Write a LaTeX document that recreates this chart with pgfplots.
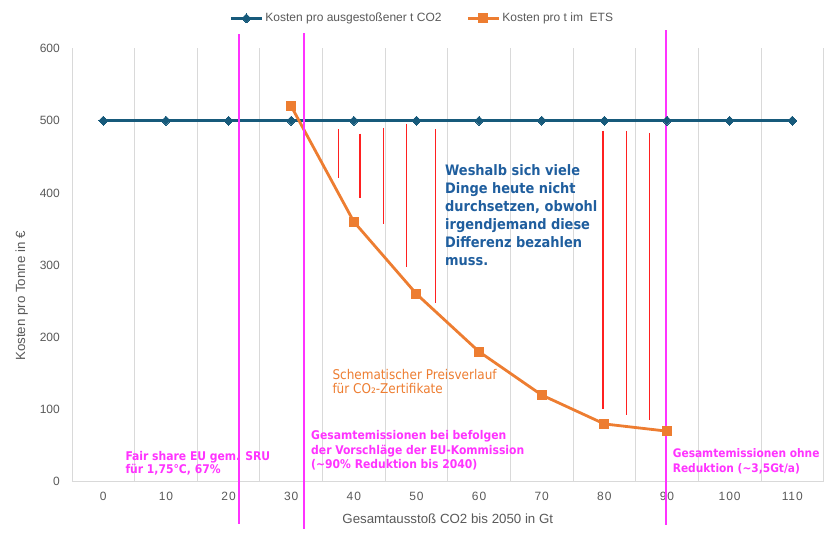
\documentclass[border=0pt]{standalone}
\usepackage{pgfplots}
\pgfplotsset{compat=1.18}
\usepackage{fontspec}
\setmainfont{Liberation Sans}
\newfontfamily\annot{DejaVu Sans Condensed}
\definecolor{blueline}{HTML}{175A7B}
\definecolor{orangeline}{HTML}{ED7D31}
\definecolor{magentaline}{HTML}{FF33FF}
\definecolor{redline}{HTML}{FF2020}
\definecolor{textblue}{HTML}{1F5E9E}
\definecolor{graytext}{HTML}{595959}
\definecolor{gridgray}{HTML}{D9D9D9}
\newcommand{\legfont}{\fontsize{12}{14}\selectfont}
\begin{document}
\begin{tikzpicture}
\useasboundingbox (-72pt,-62.3pt) rectangle (767pt,481.7pt);
\begin{axis}[
  at={(0pt,0pt)}, anchor=south west,
  scale only axis, width=751.6pt, height=433.2pt,
  xmin=-5, xmax=115, ymin=0, ymax=600,
  clip=false,
  axis x line*=bottom, axis y line*=left,
  axis line style={draw=gridgray, line width=0.8pt, -},
  xtick={0,10,...,110}, ytick={0,100,...,600},
  minor xtick={-5,5,...,115},
  xminorgrids, minor grid style={draw=gridgray, line width=0.8pt},
  major tick length=0pt, minor tick length=0pt,
  /pgf/number format/assume math mode=true,
  xticklabel style={font=\fontsize{12}{14}\selectfont\addfontfeature{LetterSpace=8}, text=graytext, anchor=north, inner sep=0pt, yshift=-10pt},
  yticklabel style={font=\fontsize{12}{14}\selectfont, text=graytext, anchor=east, inner sep=0pt, xshift=-12pt},
  xlabel={Gesamtausstoß CO2 bis 2050 in Gt},
  ylabel={Kosten pro Tonne in €},
  every axis x label/.style={at={(rel axis cs:0.5,-0.0845)}, anchor=center, font=\fontsize{13.3}{15}\selectfont, text=graytext},
  every axis y label/.style={at={(rel axis cs:-0.0669,0.4287)}, anchor=center, rotate=90, font=\fontsize{13.3}{15}\selectfont, text=graytext},
  legend columns=2,
  legend cell align=left,
  legend style={at={(0.466,1.0697)}, anchor=center, draw=none, fill=none,
    text=graytext,
    nodes={text=graytext, inner xsep=2pt, inner ysep=1pt},
    /tikz/every odd column/.style={column sep=0pt},
    /tikz/every even column/.style={column sep=23pt}},
  legend image code/.code={\draw[mark repeat=2,mark phase=2,#1] plot coordinates {(0pt,0pt)(15.5pt,0pt)(31pt,0pt)};},
]
\addplot[color=blueline, line width=3pt, mark=square*, mark size=3.2pt, mark options={rotate=45, solid, line width=0pt, fill=blueline, draw=blueline}]
 coordinates {(0,500)(10,500)(20,500)(30,500)(40,500)(50,500)(60,500)(70,500)(80,500)(90,500)(100,500)(110,500)};
\addlegendentry{\legfont Kosten pro ausgestoßener t CO2}
\addplot[color=orangeline, line width=2.8pt, mark=square*, mark size=4.5pt, mark options={solid, line width=0pt, fill=orangeline, draw=orangeline}]
 coordinates {(30,520)(40,360)(50,260)(60,180)(70,120)(80,80)(90,70)};
\addlegendentry{\legfont Kosten pro t im\ \ ETS}
% red difference lines
\addplot[forget plot, redline, line width=1.3pt] coordinates {(37.5,488)(37.5,420)};
\addplot[forget plot, redline, line width=1.3pt] coordinates {(41.0,482)(41.0,393)};
\addplot[forget plot, redline, line width=1.3pt] coordinates {(44.7,490)(44.7,357)};
\addplot[forget plot, redline, line width=1.3pt] coordinates {(48.4,496)(48.4,298)};
\addplot[forget plot, redline, line width=1.3pt] coordinates {(53.0,488)(53.0,248)};
\addplot[forget plot, redline, line width=1.3pt] coordinates {(79.8,486)(79.8,101)};
\addplot[forget plot, redline, line width=1.3pt] coordinates {(83.5,486)(83.5,92)};
\addplot[forget plot, redline, line width=1.3pt] coordinates {(87.2,483)(87.2,86)};
% magenta marker lines
\addplot[forget plot, magentaline, line width=2pt] coordinates {(21.66,620)(21.66,-58)};
\addplot[forget plot, magentaline, line width=2pt] coordinates {(32.0,621)(32.0,-65)};
\addplot[forget plot, magentaline, line width=2pt] coordinates {(89.9,625)(89.9,-60)};
% annotation texts
\begin{scope}[every node/.style={anchor=base west, inner sep=0pt}]
\node[text=textblue, font=\annot\bfseries\fontsize{14.4}{16}\selectfont] at (axis cs:54.55,423.6) {Weshalb sich viele};
\node[text=textblue, font=\annot\bfseries\fontsize{14.4}{16}\selectfont] at (axis cs:54.55,398.6) {Dinge heute nicht};
\node[text=textblue, font=\annot\bfseries\fontsize{14.4}{16}\selectfont] at (axis cs:54.55,373.7) {durchsetzen, obwohl};
\node[text=textblue, font=\annot\bfseries\fontsize{14.4}{16}\selectfont] at (axis cs:54.55,348.7) {irgendjemand diese};
\node[text=textblue, font=\annot\bfseries\fontsize{14.4}{16}\selectfont] at (axis cs:54.55,323.8) {Differenz bezahlen};
\node[text=textblue, font=\annot\bfseries\fontsize{14.4}{16}\selectfont] at (axis cs:54.55,298.9) {muss.};
\node[text=orangeline, font=\annot\fontsize{13.4}{15}\selectfont] at (axis cs:36.56,141.9) {Schematischer Preisverlauf};
\node[text=orangeline, font=\annot\fontsize{13.4}{15}\selectfont] at (axis cs:36.56,122.5) {für CO₂-Zertifikate};
\node[text=magentaline, font=\annot\bfseries\fontsize{12}{14}\selectfont] at (axis cs:3.51,29.1) {Fair share EU gem. SRU};
\node[text=magentaline, font=\annot\bfseries\fontsize{12}{14}\selectfont] at (axis cs:3.51,10.7) {für 1,75°C, 67\%};
\node[text=magentaline, font=\annot\bfseries\fontsize{12}{14}\selectfont] at (axis cs:33.16,57.8) {Gesamtemissionen bei befolgen};
\node[text=magentaline, font=\annot\bfseries\fontsize{12}{14}\selectfont] at (axis cs:33.16,37.4) {der Vorschläge der EU-Kommission};
\node[text=magentaline, font=\annot\bfseries\fontsize{12}{14}\selectfont] at (axis cs:33.16,18.6) {(\textasciitilde 90\% Reduktion bis 2040)};
\node[text=magentaline, font=\annot\bfseries\fontsize{11.8}{14}\selectfont] at (axis cs:90.9,33.3) {Gesamtemissionen ohne};
\node[text=magentaline, font=\annot\bfseries\fontsize{11.8}{14}\selectfont] at (axis cs:90.9,12.5) {Reduktion (\textasciitilde 3,5Gt/a)};
\end{scope}
\end{axis}
\end{tikzpicture}
\end{document}
